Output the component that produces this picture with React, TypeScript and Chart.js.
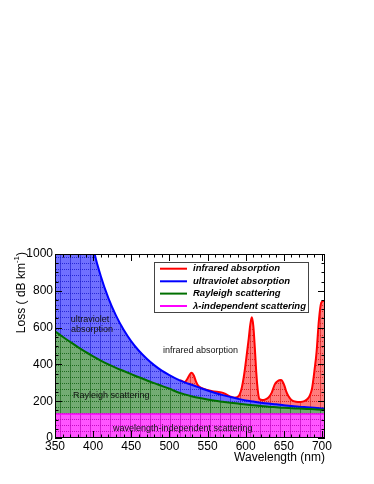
import React, { useEffect, useRef } from 'react';
import { Chart, registerables } from 'chart.js';
Chart.register(...registerables);

const wavelengths = [350, 360, 370, 380, 390, 400, 410, 420, 430, 440, 450, 460, 470, 480, 490, 500, 510, 520, 530, 540, 550, 560, 570, 580, 590, 600, 610, 620, 630, 640, 650, 660, 670, 680, 690, 700, 704];
const rayleighTotal = [580, 550, 522, 494, 468, 444, 421, 400, 381, 364, 347, 330, 314, 298, 283, 268, 250, 237, 226, 217, 209, 202, 197, 192, 187, 182, 178, 174, 170, 167, 164, 162, 160, 158, 156, 154, 153];
const uvTotal = [4000, 3000, 2300, 1750, 1330, 1040, 880, 760, 665, 588, 525, 474, 432, 396, 366, 342, 320, 302, 288, 273, 258, 245, 233, 223, 213, 204, 198, 192, 187, 183, 178, 174, 170, 167, 164, 161, 160];
const constX = [350, 704];
const constLoss = [130, 130];
const irX = [514, 520, 523, 526, 529, 532, 535, 538, 542, 548, 555, 562, 568, 574, 580, 585, 589, 592, 595, 598, 601, 604, 606, 608, 610, 612, 614, 616, 618, 622, 625, 630, 634, 638, 641, 644, 646, 648, 651, 653, 656, 660, 666, 672, 677, 681, 684, 687, 690, 693, 696, 699, 702, 704];
const irTotal = [314, 304, 318, 340, 355, 340, 305, 283, 272, 263, 256, 251, 248, 238, 225, 219, 222, 235, 275, 345, 440, 540, 615, 656, 610, 490, 350, 255, 212, 206, 208, 220, 245, 290, 306, 314, 315, 310, 282, 255, 228, 207, 197, 196, 200, 212, 230, 270, 360, 470, 640, 735, 745, 745];
const xTicks = [350, 400, 450, 500, 550, 600, 650, 700];
const yTicks = [0, 200, 400, 600, 800, 1000];
const legendLabels = ['infrared absorption', 'ultraviolet absorption', 'Rayleigh scattering', 'λ-independent scattering'];
const legendColors = ['#ff0000', '#0000ff', '#007000', '#ff00ff'];

const FONT = '"Liberation Sans", Arial, Helvetica, sans-serif';

function makePattern(ctx: CanvasRenderingContext2D, base: string, dark: string) {
  const t = document.createElement('canvas');
  t.width = 10;
  t.height = 6;
  const c = t.getContext('2d')!;
  c.fillStyle = base;
  c.fillRect(0, 0, 10, 6);
  c.fillStyle = dark;
  for (let x = 0; x < 10; x += 2) c.fillRect(x, 5, 1, 1);
  c.globalAlpha = 0.7;
  c.fillRect(0, 0, 1, 6);
  return ctx.createPattern(t, 'repeat')!;
}

const framePlugin = {
  id: 'frameDecor',
  afterDraw(chart: any) {
    const { ctx, chartArea } = chart;
    const { left, right, top, bottom } = chartArea;
    const xs = chart.scales.x;
    const ys = chart.scales.y;
    ctx.save();
    ctx.strokeStyle = '#000';
    ctx.lineWidth = 1;
    ctx.strokeRect(left + 0.5, top + 0.5, right - left - 1, bottom - top - 1);
    ctx.beginPath();
    for (let v = 350; v <= 700; v += 10) {
      const px = Math.round(xs.getPixelForValue(v)) + 0.5;
      const len = v % 50 === 0 ? 7 : 3.5;
      ctx.moveTo(px, bottom);
      ctx.lineTo(px, bottom - len);
      ctx.moveTo(px, top);
      ctx.lineTo(px, top + len);
    }
    for (let v = 0; v <= 1000; v += 50) {
      const py = Math.round(ys.getPixelForValue(v)) + 0.5;
      const len = v % 200 === 0 ? 7 : 3.5;
      ctx.moveTo(left, py);
      ctx.lineTo(left + len, py);
      ctx.moveTo(right, py);
      ctx.lineTo(right - len, py);
    }
    ctx.stroke();

    ctx.fillStyle = '#000';
    ctx.font = `12px ${FONT}`;
    ctx.textAlign = 'right';
    ctx.textBaseline = 'middle';
    ctx.fillText('Wavelength (nm)', right, 458);

    ctx.save();
    ctx.translate(22, top - 2);
    ctx.rotate(-Math.PI / 2);
    ctx.textAlign = 'left';
    ctx.textBaseline = 'middle';
    const main = 'Loss ( dB km';
    const sup = '-1';
    const close = ')';
    ctx.font = `12px ${FONT}`;
    const w1 = ctx.measureText(main).width;
    const w3 = ctx.measureText(close).width;
    ctx.font = `8px ${FONT}`;
    const w2 = ctx.measureText(sup).width;
    const x0 = -(w1 + w2 + w3);
    ctx.font = `12px ${FONT}`;
    ctx.fillText(main, x0, 0);
    ctx.font = `8px ${FONT}`;
    ctx.fillText(sup, x0 + w1, -5);
    ctx.font = `12px ${FONT}`;
    ctx.fillText(close, x0 + w1 + w2, 0);
    ctx.restore();

    ctx.fillStyle = '#111';
    ctx.font = `9px ${FONT}`;
    ctx.textBaseline = 'middle';
    ctx.textAlign = 'center';
    ctx.fillText('ultraviolet', 90, 319.5);
    ctx.fillText('absorption', 92, 330);
    ctx.textAlign = 'left';
    ctx.fillText('infrared absorption', 163, 351);
    ctx.fillText('Rayleigh scattering', 73, 396);
    ctx.fillText('wavelength-independent scattering', 113, 428.5);

    const lx = 154, ly = 262, lw = 155, lh = 51;
    ctx.fillStyle = '#fff';
    ctx.fillRect(lx, ly, lw, lh);
    ctx.strokeStyle = '#444';
    ctx.lineWidth = 1;
    ctx.strokeRect(lx + 0.5, ly + 0.5, lw - 1, lh - 1);
    const rows = [268.7, 281.3, 293.6, 306];
    legendLabels.forEach((lab, i) => {
      ctx.strokeStyle = legendColors[i];
      ctx.lineWidth = 2;
      ctx.beginPath();
      ctx.moveTo(160, rows[i]);
      ctx.lineTo(187, rows[i]);
      ctx.stroke();
      ctx.fillStyle = '#000';
      ctx.font = `bold italic 9.5px ${FONT}`;
      ctx.textAlign = 'left';
      ctx.textBaseline = 'middle';
      ctx.fillText(lab, 193, rows[i]);
    });
    ctx.restore();
  },
};

export default function App() {
  const ref = useRef<HTMLCanvasElement>(null);
  useEffect(() => {
    const canvas = ref.current!;
    const ctx = canvas.getContext('2d')!;
    const pMag = makePattern(ctx, 'rgb(255,85,255)', 'rgba(190,0,190,0.9)');
    const pGreen = makePattern(ctx, 'rgb(115,172,115)', 'rgba(20,100,20,0.9)');
    const pBlue = makePattern(ctx, 'rgb(112,112,255)', 'rgba(30,30,210,0.9)');
    const pRed = makePattern(ctx, 'rgb(255,125,125)', 'rgba(215,30,30,0.9)');
    const chart = new Chart(ctx, {
      type: 'line',
      data: {
        datasets: [
          {
            label: 'const',
            data: constX.map((x, i) => ({ x, y: constLoss[i] })),
            borderColor: '#ff00ff',
            borderWidth: 1.5,
            backgroundColor: pMag,
            fill: 'origin',
            pointRadius: 0,
          },
          {
            label: 'rayleigh',
            data: wavelengths.map((x, i) => ({ x, y: rayleighTotal[i] })),
            borderColor: '#007000',
            borderWidth: 2,
            backgroundColor: pGreen,
            fill: '-1',
            pointRadius: 0,
            cubicInterpolationMode: 'monotone',
          },
          {
            label: 'uv',
            data: wavelengths.map((x, i) => ({ x, y: uvTotal[i] })),
            borderColor: '#0000ff',
            borderWidth: 2,
            backgroundColor: pBlue,
            fill: '-1',
            pointRadius: 0,
            cubicInterpolationMode: 'monotone',
          },
          {
            label: 'ir',
            data: irX.map((x, i) => ({ x, y: irTotal[i] })),
            borderColor: '#ff0000',
            borderWidth: 2,
            backgroundColor: pRed,
            fill: '-1',
            pointRadius: 0,
            cubicInterpolationMode: 'monotone',
          },
        ],
      },
      options: {
        animation: false,
        responsive: false,
        layout: { padding: { top: 254, right: 49, bottom: 0, left: 0 } },
        plugins: { legend: { display: false }, tooltip: { enabled: false } },
        scales: {
          x: {
            type: 'linear',
            min: 350,
            max: 704,
            grid: { display: false, drawTicks: false },
            border: { display: false },
            afterFit: (s: any) => { s.height = 46; },
            afterBuildTicks: (s: any) => { s.ticks = xTicks.map((v) => ({ value: v })); },
            ticks: { font: { size: 12, family: FONT }, color: '#000', padding: 1, maxRotation: 0, autoSkip: false, callback: (v: any) => String(v) },
          },
          y: {
            type: 'linear',
            min: 0,
            max: 1000,
            grid: { display: false, drawTicks: false },
            border: { display: false },
            afterFit: (s: any) => { s.width = 55; },
            afterBuildTicks: (s: any) => { s.ticks = yTicks.map((v) => ({ value: v })); },
            ticks: { font: { size: 12, family: FONT }, color: '#000', padding: 2, callback: (v: any) => String(v) },
          },
        },
      },
      plugins: [framePlugin],
    } as any);
    return () => chart.destroy();
  }, []);
  return (
    <div style={{ position: 'fixed', left: 0, top: 0, width: 374, height: 484, background: '#fff' }}>
      <canvas ref={ref} width={374} height={484} style={{ display: 'block' }} />
    </div>
  );
}
